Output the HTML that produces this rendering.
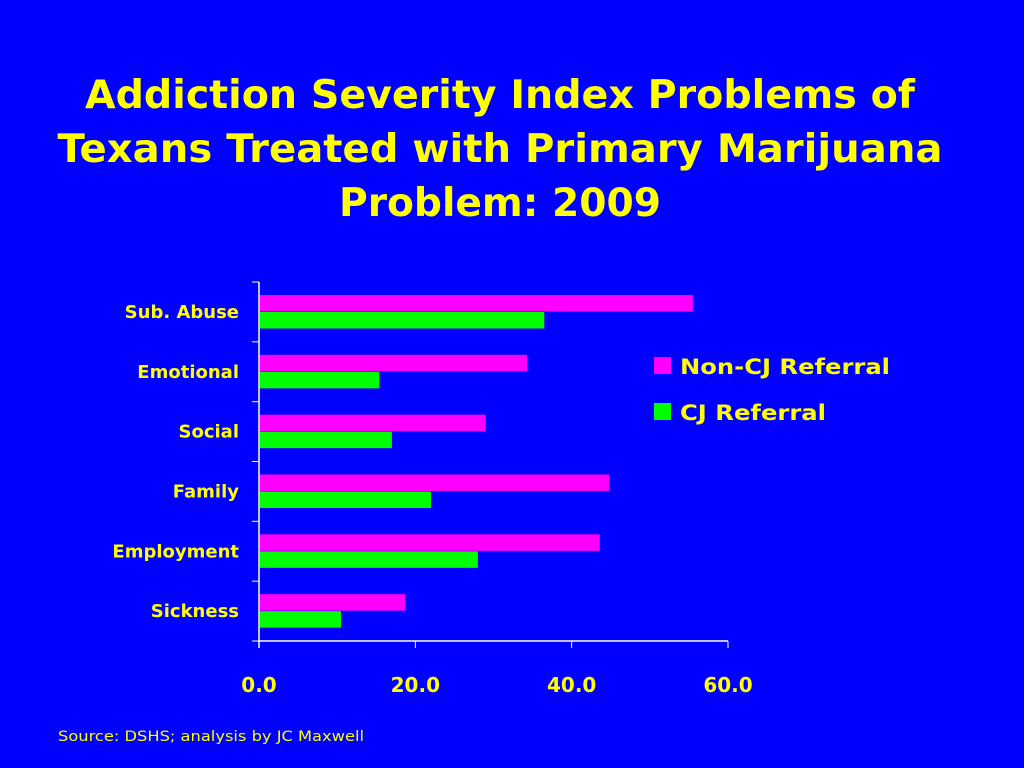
<!DOCTYPE html>
<html><head><meta charset="utf-8"><style>
html,body{margin:0;padding:0;width:1024px;height:768px;overflow:hidden;background:#0000ff;}
svg{display:block}
text{font-family:"DejaVu Sans","Liberation Sans",sans-serif;fill:#ffff00;}
</style></head><body>
<svg width="1024" height="768">
<rect width="1024" height="768" fill="#0000ff"/>
<g text-anchor="middle">
<text x="500" y="108" font-size="39" font-weight="bold" textLength="830" lengthAdjust="spacingAndGlyphs">Addiction Severity Index Problems of</text>
<text x="500" y="162" font-size="39" font-weight="bold" textLength="885" lengthAdjust="spacingAndGlyphs">Texans Treated with Primary Marijuana</text>
<text x="500" y="216" font-size="39" font-weight="bold" textLength="322" lengthAdjust="spacingAndGlyphs">Problem: 2009</text>
</g>
<g id="plot"></g>
<g>
<rect x="654" y="357" width="17" height="17" fill="#ff00ff"/>
<text x="680" y="374" font-size="21" font-weight="bold" textLength="210" lengthAdjust="spacingAndGlyphs">Non-CJ Referral</text>
<rect x="654" y="403" width="17" height="17" fill="#00ff00"/>
<text x="680" y="420" font-size="21" font-weight="bold" textLength="146" lengthAdjust="spacingAndGlyphs">CJ Referral</text>
</g>
<text x="58" y="741" font-size="14.5" textLength="306" lengthAdjust="spacingAndGlyphs">Source: DSHS; analysis by JC Maxwell</text>
</svg>
<script>
const categories=["Sub. Abuse","Emotional","Social","Family","Employment","Sickness"];
const nonCJ=[55.5,34.3,29.0,44.8,43.6,18.7];
const cj=[36.5,15.4,17.0,22.0,28.0,10.5];
const xTicks=[0,20,40,60];
const X0=259,X1=728,TOPY=282,BOTY=641;
const xs=v=>X0+(v/60)*(X1-X0);
const band=(BOTY-TOPY)/categories.length;
const g=document.getElementById('plot');
const NS='http://www.w3.org/2000/svg';
function mk(t,a){const e=document.createElementNS(NS,t);for(const k in a)e.setAttribute(k,a[k]);g.appendChild(e);return e;}
categories.forEach((c,i)=>{
 const y=TOPY+i*band;
 const p=mk('rect',{x:X0+1,y:y+13,width:xs(nonCJ[i])-X0-1,height:16.5,fill:'#ff00ff'});
 
 
 const q=mk('rect',{x:X0+1,y:y+30,width:xs(cj[i])-X0-1,height:16.5,fill:'#00ff00'});
 
 
 const t=mk('text',{x:239,y:y+band/2+6,'text-anchor':'end','font-size':18,'font-weight':'bold'});
 t.textContent=c;
 
 
});
for(let i=0;i<=categories.length;i++){
 const y=TOPY+i*band;
 const l=mk('line',{x1:252,x2:X0,y1:y,y2:y,stroke:'#fff','stroke-width':1});
 
 
}
const ya=mk('line',{x1:X0,x2:X0,y1:TOPY,y2:BOTY+7,stroke:'#fff','stroke-width':1.5});


const xa=mk('line',{x1:X0,x2:X1,y1:BOTY,y2:BOTY,stroke:'#fff','stroke-width':1.5});


xTicks.forEach((v,i)=>{
 const l=mk('line',{x1:xs(v),x2:xs(v),y1:BOTY,y2:BOTY+7,stroke:'#fff','stroke-width':1});
 
 
 const t=mk('text',{x:xs(v),y:692,'text-anchor':'middle','font-size':20,'font-weight':'bold'});
 t.textContent=v.toFixed(1);
 
 
});
</script>
</body></html>
